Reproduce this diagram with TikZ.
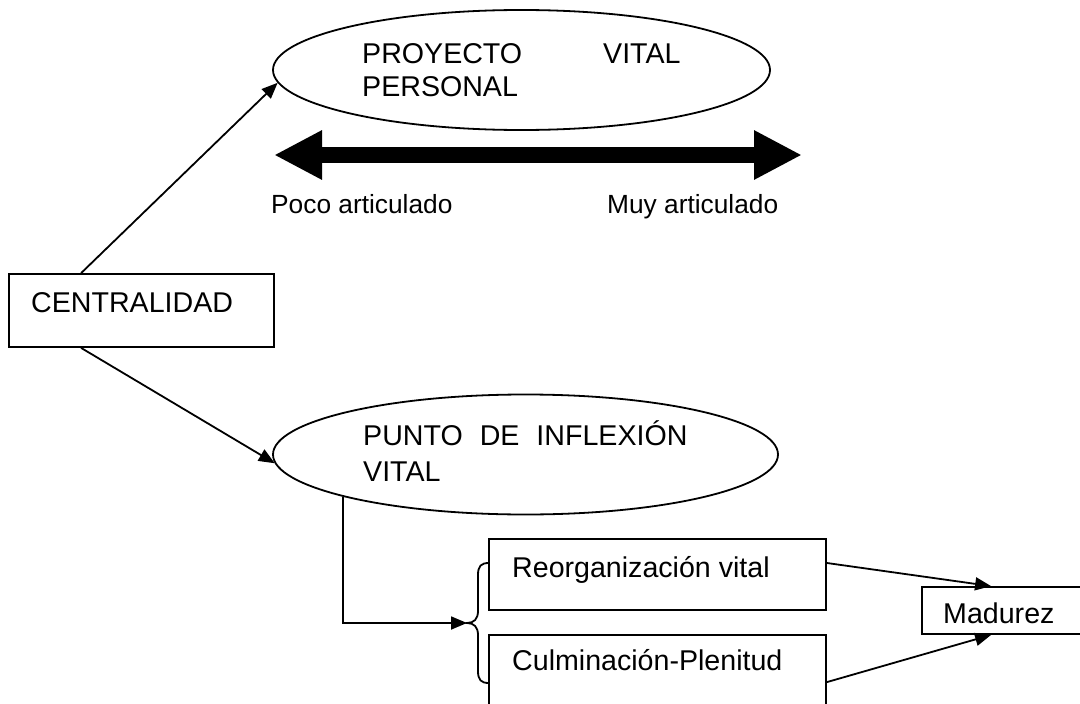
\documentclass[tikz,border=0pt]{standalone}
\usepackage{fontspec}
\setmainfont{Liberation Sans}
\usetikzlibrary{shapes.geometric,arrows.meta}

\tikzset{
  box/.style={draw, line width=1.8pt, rectangle, inner sep=0pt},
  oval/.style={draw, line width=1.8pt, ellipse, inner sep=0pt},
  lbl/.style={anchor=base west, inner sep=0pt, font=\fontsize{28.6}{34}\selectfont},
  smalllbl/.style={lbl, font=\fontsize{26.3}{32}\selectfont},
  link/.style={line width=1.8pt, -{Triangle[length=16pt,width=13pt]}},
}

\begin{document}
\begin{tikzpicture}[x=1pt,y=-1pt]
	\useasboundingbox (0,0) rectangle (1080,704);
	\clip (0,0) rectangle (1080,704);

	% ovals and boxes
	\node[oval, minimum width=497pt, minimum height=120pt] (proyecto) at (521.5,70) {};
	\node[oval, minimum width=505pt, minimum height=120pt] (punto) at (525.5,454.5) {};
	\node[box, minimum width=265pt, minimum height=73pt] (centralidad) at (141.5,310.5) {};
	\node[box, minimum width=337pt, minimum height=71pt] (reorg) at (657.5,574.5) {};
	\node[box, minimum width=337pt, minimum height=85pt] (culm) at (657.5,677.5) {};
	\node[box, minimum width=173pt, minimum height=47pt] (madurez) at (1008.5,610.5) {};

	% texts
	\node[lbl] (proyectotxt) at (362,63) {PROYECTO\hspace{81pt}VITAL};
	\node[lbl] (personaltxt) at (362,96) {PERSONAL};
	\node[smalllbl] (poco) at (271,213) {Poco articulado};
	\node[smalllbl] (muy) at (607,213) {Muy articulado};
	\node[lbl] (centralidadtxt) at (31,312) {CENTRALIDAD};
	\node[lbl] (puntotxt) at (363,445) {PUNTO\hspace{17pt}DE\hspace{17pt}INFLEXIÓN};
	\node[lbl] (vitaltxt) at (363,481) {VITAL};
	\node[lbl] (reorgtxt) at (512,577) {Reorganización vital};
	\node[lbl] (culmtxt) at (512,670) {Culminación-Plenitud};
	\node[lbl] (madureztxt) at (943,623) {Madurez};

	% scale arrow
	\coordinate (pocoend) at (274,155);
	\coordinate (muyend) at (802,155);
	\draw[line width=16pt, {Triangle[length=48pt,width=46pt]}-{Triangle[length=48pt,width=46pt]}]
		(pocoend) -- (muyend);

	% brace
	\coordinate (bracetip) at (467,623);
	\draw[line width=1.8pt] (489,563) .. controls (481,563) and (478,566) .. (478,575) -- (478,611)
		.. controls (478,619) and (474,623) .. (bracetip)
		.. controls (474,623) and (478,627) .. (478,635) -- (478,671)
		.. controls (478,680) and (481,683) .. (489,683);

	% connectors
	\draw[link] ([xshift=73pt]centralidad.north west) -- (proyecto.183);
	\draw[link] ([xshift=73pt]centralidad.south west) -- (punto.182);
	\draw[link] (punto.193.4) |- (bracetip);
	\draw[link] ([yshift=11.5pt]reorg.east) -- ([xshift=70pt]madurez.north west);
	\draw[link] ([yshift=-48pt]culm.north east) -- ([xshift=70pt]madurez.south west);
\end{tikzpicture}
\end{document}
